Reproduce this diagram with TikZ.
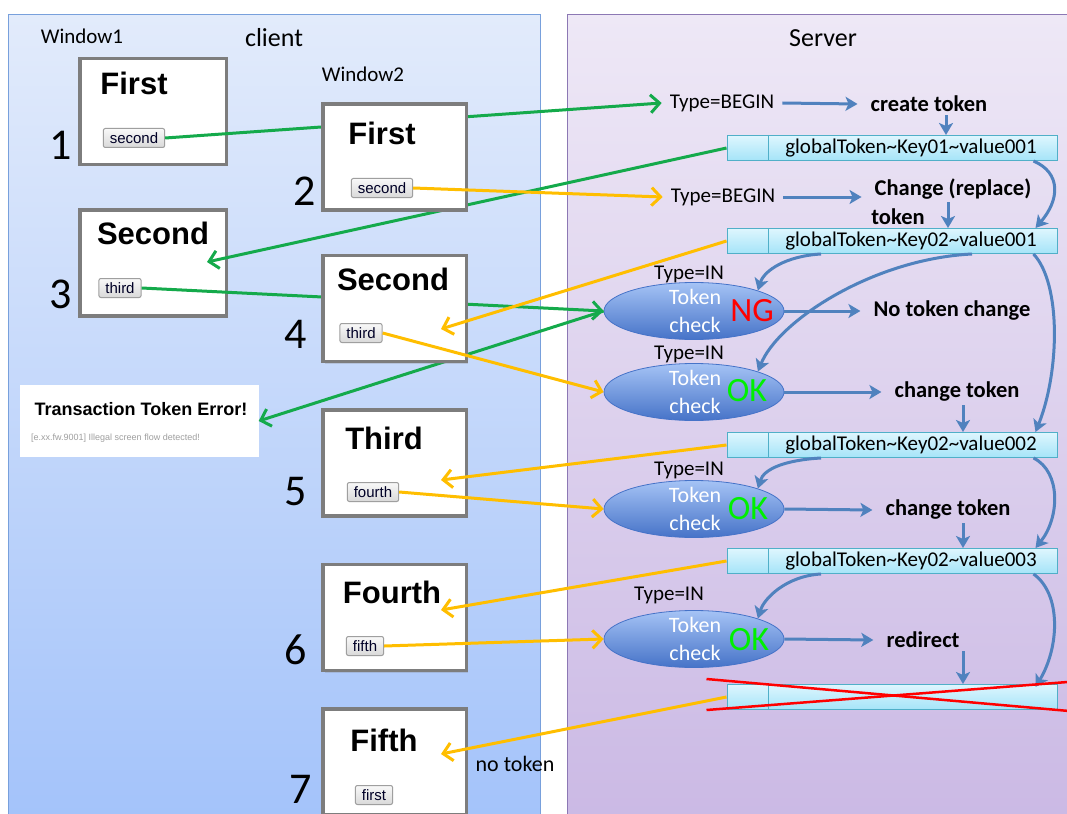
\documentclass[tikz,border=0pt]{standalone}
\usepackage{fontspec}
\setmainfont{Carlito}
\newfontfamily\winfont{Liberation Sans}
\usetikzlibrary{arrows.meta, shapes.geometric, shadows}
\definecolor{cClientTop}{RGB}{226,235,251}
\definecolor{cClientBot}{RGB}{162,194,250}
\definecolor{cClientLine}{RGB}{120,160,220}
\definecolor{cServerTop}{RGB}{238,232,246}
\definecolor{cServerBot}{RGB}{202,184,228}
\definecolor{cServerLine}{RGB}{140,120,180}
\definecolor{cGreenArr}{RGB}{20,170,75}
\definecolor{cYellowArr}{RGB}{255,190,0}
\definecolor{cBlueArr}{RGB}{80,130,190}
\definecolor{cTokTop}{RGB}{222,246,254}
\definecolor{cTokBot}{RGB}{165,228,248}
\definecolor{cTokLine}{RGB}{80,175,200}
\definecolor{cEllTop}{RGB}{165,195,245}
\definecolor{cEllBot}{RGB}{70,115,200}
\definecolor{cWinLine}{RGB}{125,125,125}
\definecolor{cNG}{RGB}{255,0,0}
\definecolor{cOK}{RGB}{0,240,0}
\tikzset{
	win/.style     ={rectangle, draw=cWinLine, line width=3.5pt, fill=white, minimum width=143.5pt, minimum height=106pt, drop shadow={shadow xshift=2pt, shadow yshift=-2pt, opacity=0.25}},
	wintitle/.style={font=\winfont\bfseries\fontsize{31}{34}\selectfont, inner sep=0pt},
	btn/.style     ={rectangle, rounded corners=2pt, draw=gray!75, line width=1pt, top color=gray!5, bottom color=gray!30, text=black!85!blue, font=\winfont\fontsize{15}{16}\selectfont, inner xsep=6.5pt, inner ysep=0pt, minimum height=19pt},
	stepnum/.style ={font=\fontsize{44}{48}\selectfont, inner sep=0pt},
	tokbar/.style  ={rectangle, draw=cTokLine, line width=1pt, top color=cTokTop, bottom color=cTokBot, minimum width=330pt, minimum height=25pt},
	toktxt/.style  ={font=\fontsize{21}{24}\selectfont, inner sep=0pt},
	tokcheck/.style={ellipse, draw=cEllBot, line width=0.8pt, top color=cEllTop, bottom color=cEllBot, minimum width=180pt, minimum height=57pt, inner sep=0pt},
	chktxt/.style  ={text=white, align=center, font=\fontsize{22}{28.5}\selectfont, inner sep=0pt},
	ngtxt/.style   ={text=cNG, font=\fontsize{34}{36}\selectfont, inner sep=0pt},
	oktxt/.style   ={text=cOK, font=\fontsize{34}{36}\selectfont, inner sep=0pt},
	lbl/.style     ={font=\fontsize{21}{24}\selectfont, inner xsep=8pt, inner ysep=2pt},
	act/.style     ={font=\bfseries\fontsize{22.5}{26}\selectfont, inner xsep=13pt, inner ysep=3pt},
	garrow/.style  ={draw=cGreenArr, line width=3pt, -{Straight Barb[length=9pt, width=18pt]}},
	yarrow/.style  ={draw=cYellowArr, line width=3pt, -{Straight Barb[length=9pt, width=18pt]}},
	barrow/.style  ={draw=cBlueArr, line width=3pt, -{Stealth[length=12pt, width=14pt, inset=3pt]}},
}
\begin{document}
\begin{tikzpicture}[x=1pt, y=-1pt]
\useasboundingbox (0,0) rectangle (1067,813);
% the two sides
\shadedraw[top color=cClientTop, bottom color=cClientBot, draw=cClientLine, line width=1pt] (8,15) rectangle (540,840);
\shadedraw[top color=cServerTop, bottom color=cServerBot, draw=cServerLine, line width=1pt] (567,15) rectangle (1090,840);
\node[font=\fontsize{21}{24}\selectfont] (capWinA) at (82,36) {Window1};
\node[font=\fontsize{26}{30}\selectfont] (capClient) at (274,38) {client};
\node[font=\fontsize{21}{24}\selectfont] (capWinB) at (363,74) {Window2};
\node[font=\fontsize{26}{30}\selectfont] (capServer) at (823,38) {Server};

% window 1
\node[win, minimum width=146.5pt] (winA) at (153,111.5) {};
\node[wintitle] (ttlA) at (134,83) {First};
\node[btn] (btnA) at (134,138) {second};
\node[stepnum] (numA) at (61,145) {1};
\node[win, minimum width=146.5pt] (winC) at (153,263) {};
\node[wintitle] (ttlC) at (153,233) {Second};
\node[btn] (btnC) at (120,288) {third};
\node[stepnum] (numC) at (61,294) {3};
\coordinate (hitC) at (207,262);
\node[rectangle, fill=white, minimum width=239pt, minimum height=72pt] (errBox) at (139,421) {};
\node[font=\winfont\bfseries\fontsize{18}{20}\selectfont, inner sep=0pt] (errTitle) at (141,409) {Transaction Token Error!};
\node[font=\winfont\fontsize{9}{10}\selectfont, text=gray!75, anchor=west, inner sep=0pt] (errMsg) at (31,438) {[e.xx.fw.9001] Illegal screen flow detected!};

% server
\node[lbl] (beginA) at (722,103) {Type=BEGIN};
\node[act] (createTok) at (929,104) {create token};
\node[tokbar] (tokA) at (892,148) {};
\node[toktxt] (tokAtxt) at (911,148) {globalToken\textasciitilde Key01\textasciitilde value001};
\node[lbl] (beginB) at (723,197) {Type=BEGIN};
\node[act] (chgRep) at (953,189) {Change (replace)};
\node[act] (chgWord) at (898,217) {token};
\node[tokbar] (tokB) at (892,241) {};
\node[toktxt] (tokBtxt) at (911,241) {globalToken\textasciitilde Key02\textasciitilde value001};
\node[lbl] (inA) at (689,274) {Type=IN};
\node[tokcheck] (ellA) at (694,311) {};
\node[chktxt] (chkA) at (695,311) {Token\\check};
\node[ngtxt] (ngA) at (752,311) {NG};
\node[act] (noTok) at (952,311) {No token change};
\node[lbl] (inB) at (689,354) {Type=IN};
\node[tokcheck] (ellB) at (694,392) {};
\node[chktxt] (chkB) at (695,392) {Token\\check};
\node[oktxt] (okB) at (747,391) {OK};
\node[act] (chgTokA) at (957,392) {change token};
\node[tokbar] (tokC) at (892,445) {};
\node[toktxt] (tokCtxt) at (911,445) {globalToken\textasciitilde Key02\textasciitilde value002};
\node[lbl] (inC) at (689,470) {Type=IN};
\node[tokcheck] (ellC) at (694,509) {};
\node[chktxt] (chkC) at (695,509) {Token\\check};
\node[oktxt] (okC) at (748,509) {OK};
\node[act] (chgTokB) at (948,510) {change token};
\node[tokbar] (tokD) at (892,561) {};
\node[toktxt] (tokDtxt) at (911,561) {globalToken\textasciitilde Key02\textasciitilde value003};
\node[lbl] (inD) at (669,595) {Type=IN};
\node[tokcheck] (ellD) at (694,639) {};
\node[chktxt] (chkD) at (695,639) {Token\\check};
\node[oktxt] (okD) at (749,640) {OK};
\node[act] (redir) at (923,640) {redirect};
\node[tokbar] (tokE) at (892,697) {};
\foreach \t in {tokA,tokB,tokC,tokD,tokE}
	\draw[cTokLine, line width=1pt] ([xshift=42pt]\t.north west) -- ([xshift=42pt]\t.south west);

% green requests pass behind window 2
\draw[garrow] (btnA.east) -- (beginA.west);
\draw[garrow] (tokA.west) -- (hitC);
\draw[garrow] (btnC.east) -- (ellA.west);
\draw[garrow] (ellA.west) -- (errBox.east);

% window 2
\node[win] (winB) at (394.5,157) {};
\node[wintitle] (ttlB) at (382,133) {First};
\node[btn] (btnB) at (382,188) {second};
\node[stepnum] (numB) at (305,191) {2};
\node[win] (winD) at (394.5,308.5) {};
\node[wintitle] (ttlD) at (393,279) {Second};
\node[btn] (btnD) at (361,333) {third};
\node[stepnum] (numD) at (296,334) {4};
\coordinate (hitD) at (441,329);
\node[win] (winE) at (394.5,463) {};
\node[wintitle] (ttlE) at (384,438) {Third};
\node[btn] (btnE) at (373,492) {fourth};
\node[stepnum] (numE) at (296,492) {5};
\coordinate (hitE) at (441,480);
\node[win] (winF) at (394.5,617.5) {};
\node[wintitle] (ttlF) at (392,592) {Fourth};
\node[btn] (btnF) at (365,646) {fifth};
\node[stepnum] (numF) at (296,650) {6};
\coordinate (hitF) at (441,610);
\node[win] (winG) at (394.5,762) {};
\node[wintitle] (ttlG) at (384,740) {Fifth};
\node[btn] (btnG) at (374,795) {first};
\node[stepnum] (numG) at (301,789) {7};
\coordinate (hitG) at (441,754);
\node[font=\fontsize{22}{24}\selectfont] (noTokWord) at (515,764) {no token};

% yellow requests
\draw[yarrow] (btnB.east) -- (beginB.west);
\draw[yarrow] (tokB.west) -- (hitD);
\draw[yarrow] (btnD.east) -- (ellB.west);
\draw[yarrow] (tokC.west) -- (hitE);
\draw[yarrow] (btnE.east) -- (ellC.west);
\draw[yarrow] (tokD.west) -- (hitF);
\draw[yarrow] (btnF.east) -- (ellD.west);
\draw[yarrow] (tokE.west) -- (hitG);

% server flow
\draw[barrow] (beginA.east) -- (createTok.west);
\draw[barrow] ([xshift=17pt]createTok.south) -- ([xshift=17pt]createTok.south |- tokA.north);
\draw[barrow] (beginB.east) -- (chgRep.west |- beginB.east);
\draw[barrow] ([xshift=-5pt]chgRep.south) -- ([xshift=-5pt]chgRep.south |- tokB.north);
\draw[barrow] (ellA.east) -- (noTok.west);
\draw[barrow] (ellB.east) -- (chgTokA.west);
\draw[barrow] ([xshift=6pt]chgTokA.south) -- ([xshift=6pt]chgTokA.south |- tokC.north);
\draw[barrow] (ellC.east) -- (chgTokB.west);
\draw[barrow] ([xshift=15pt]chgTokB.south) -- ([xshift=15pt]chgTokB.south |- tokD.north);
\draw[barrow] (ellD.east) -- (redir.west);
\draw[barrow] ([xshift=40pt]redir.south) -- ([xshift=40pt]redir.south |- tokE.north);
\draw[barrow] ([xshift=-24pt]tokA.south east) .. controls +(28,12) and +(24,-28) .. ([xshift=-22pt]tokB.north east);
\draw[barrow] ([xshift=-71pt]tokB.south) .. controls +(-35,2) and +(6,-20) .. (ellA.north east);
\draw[barrow] ([xshift=80pt]tokB.south) .. controls +(-100,5) and +(20,-50) .. (ellB.north east);
\draw[barrow] ([xshift=-24pt]tokB.south east) .. controls +(28,30) and +(24,-60) .. ([xshift=-22pt]tokC.north east);
\draw[barrow] ([xshift=-71pt]tokC.south) .. controls +(-35,2) and +(6,-20) .. (ellC.north east);
\draw[barrow] ([xshift=-24pt]tokC.south east) .. controls +(28,14) and +(24,-30) .. ([xshift=-22pt]tokD.north east);
\draw[barrow] ([xshift=-71pt]tokD.south) .. controls +(-35,2) and +(6,-20) .. (ellD.north east);
\draw[barrow] ([xshift=-24pt]tokD.south east) .. controls +(28,20) and +(24,-40) .. ([xshift=-22pt, yshift=-3pt]tokE.north east);
% removed token
\draw[cNG, line width=2.5pt] ([xshift=-20pt, yshift=5pt]tokE.north west) -- ([xshift=23pt, yshift=-2pt]tokE.south east);
\draw[cNG, line width=2.5pt] ([xshift=-20pt]tokE.south west) -- ([xshift=23pt, yshift=3pt]tokE.north east);
\end{tikzpicture}
\end{document}
